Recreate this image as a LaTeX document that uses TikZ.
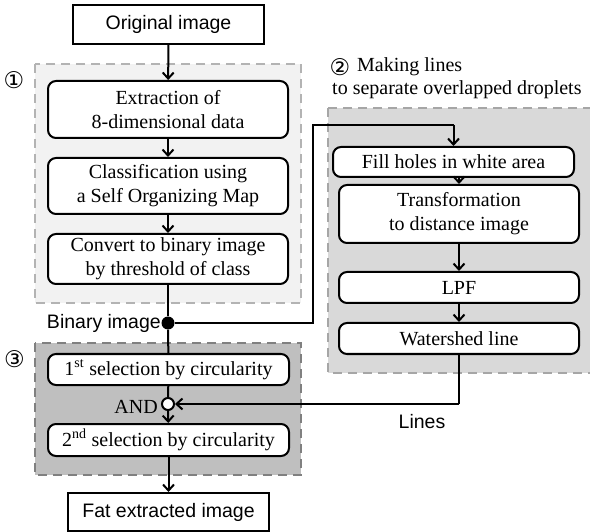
\documentclass[tikz,border=0pt]{standalone}
\usepackage{fontspec}
\setmainfont{Liberation Serif}
\newfontfamily\sansf{Liberation Sans}
\newfontfamily\dejavu{DejaVu Sans}
\usetikzlibrary{arrows.meta}
\definecolor{regA}{HTML}{F2F2F2}
\definecolor{regB}{HTML}{D9D9D9}
\definecolor{regC}{HTML}{BFBFBF}
\definecolor{bordA}{HTML}{B3B3B3}
\definecolor{bordB}{HTML}{A6A6A6}
\definecolor{bordC}{HTML}{808080}
\tikzset{
  region/.style={line width=2.2pt, dash pattern=on 9pt off 6pt},
  sbox/.style={draw, line width=2pt, fill=white, inner sep=0pt, align=center,
    font=\sansf\fontsize{19.5}{24}\selectfont},
  rbox/.style={draw, line width=2pt, fill=white, rounded corners=8pt, inner sep=0pt,
    align=center, font=\fontsize{20}{24}\selectfont},
  conn/.style={line width=2pt},
  arr/.style={line width=2pt, -{Straight Barb[length=6pt,width=11pt,line width=2pt]}},
  dotb/.style={circle, fill=black, minimum size=13pt, inner sep=0pt},
  dotw/.style={circle, draw, line width=2pt, fill=white, minimum size=12pt, inner sep=0pt},
  lbl/.style={inner sep=0pt, font=\sansf\fontsize{19.5}{24}\selectfont},
  num/.style={inner sep=0pt, font=\dejavu\fontsize{23}{26}\selectfont},
  sertxt/.style={inner sep=0pt, font=\fontsize{20}{24}\selectfont}
}
\begin{document}
\begin{tikzpicture}[x=1pt,y=-1pt]
\useasboundingbox (0,0) rectangle (590,532);
% regions
\draw[region, fill=regA, draw=bordA] (35,64) rectangle (301,303);
\draw[region, fill=regB, draw=bordB] (328,108) rectangle (600,373);
\draw[region, fill=regC, draw=bordC] (35,343) rectangle (301,475);
% left column
\node[sbox, minimum width=191pt, minimum height=39pt] (orig) at (168.5,24.5) {Original image};
\node[rbox, minimum width=240pt, minimum height=57pt] (ext) at (168,109.5) {Extraction of\\8-dimensional data};
\node[rbox, minimum width=240pt, minimum height=56pt] (cls) at (168,186) {Classification using\\a Self Organizing Map};
\node[rbox, minimum width=240pt, minimum height=50pt] (conv) at (168,259) {Convert to binary image\\by threshold of class};
\node[dotb] (bin) at (168,323) {};
\node[lbl, anchor=east] (binl) at (161,323) {Binary image};
\node[rbox, minimum width=241pt, minimum height=31pt] (sel1) at (168.5,369.5) {1\textsuperscript{st} selection by circularity};
\node[dotw] (and) at (168,404) {};
\node[sertxt, anchor=east] (andl) at (158,407) {AND};
\node[rbox, minimum width=241pt, minimum height=32pt] (sel2) at (168.5,440) {2\textsuperscript{nd} selection by circularity};
\node[sbox, minimum width=201pt, minimum height=38pt] (fat) at (168.5,512) {Fat extracted image};
% right column
\node[rbox, minimum width=241pt, minimum height=30pt] (fill) at (453.5,162) {Fill holes in white area};
\node[rbox, minimum width=240pt, minimum height=58pt] (trans) at (459,214) {Transformation\\to distance image};
\node[rbox, minimum width=240pt, minimum height=31pt] (lpf) at (459,287.5) {LPF};
\node[rbox, minimum width=240pt, minimum height=31pt] (ws) at (459,338.5) {Watershed line};
\node[lbl] (linesl) at (422,422) {Lines};
% labels
\node[num] (n1) at (14,80) {①};
\node[num] (n3) at (14.5,359) {③};
\node[num] (n2) at (340,67) {②};
\node[sertxt, anchor=west] (t2a) at (357,67) {Making lines};
\node[sertxt, anchor=west] (t2b) at (332,90) {to separate overlapped droplets};
\coordinate (c1) at (313,323);
\coordinate (c2) at (313,125);
\coordinate (c3) at (453.5,125);
\coordinate (c4) at (459,404);
% connectors
\draw[arr] (orig) -- (ext);
\draw[arr] (ext) -- (cls);
\draw[arr] (cls) -- (conv);
\draw[conn] (conv) -- (bin);
\draw[conn] (bin) -- (c1) -- (c2) -- (c3);
\draw[arr] (c3) -- (fill);
\draw[conn] (bin) -- (sel1);
\draw[conn] (sel1) -- (and);
\draw[arr] (and) -- (sel2);
\draw[arr] (sel2) -- (fat);
\draw[arr] (trans.north |- fill.south) -- (trans);
\draw[arr] (trans) -- (lpf);
\draw[arr] (lpf) -- (ws);
\draw[conn] (ws) -- (c4);
\draw[arr] (c4) -- (and);
\end{tikzpicture}
\end{document}
